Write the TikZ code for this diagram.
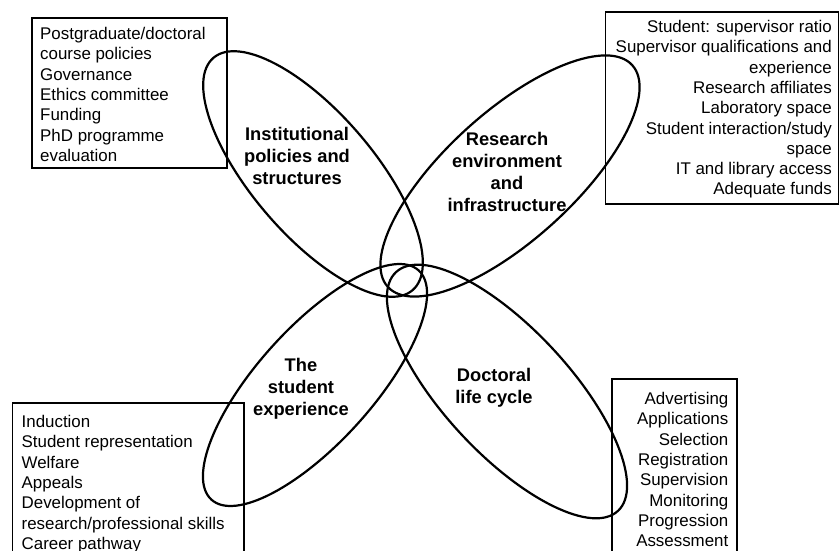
\documentclass[tikz,border=0pt]{standalone}
\usepackage{fontspec}
\setmainfont{Liberation Sans}
\begin{document}
\begin{tikzpicture}[x=1pt,y=-1pt,
  loop/.style={draw=black, line width=2.2pt},
  listbox/.style={draw=black, line width=1.4pt},
  listtext/.style={inner sep=0pt, font={\fontsize{16.9}{20.3}\selectfont}},
  hub/.style={inner sep=0pt, align=center, font={\fontsize{18.3}{22}\selectfont\bfseries}}]
\useasboundingbox (0,0) rectangle (840,551);
\clip (0,0) rectangle (840,551);
\fill[white] (0,0) rectangle (840,551);
% boxes
\draw[listbox] (32,18) rectangle (227,168);
\draw[listbox] (605.7,12) rectangle (838.6,204);
\draw[listbox] (12.7,403) rectangle (244,600);
\draw[listbox] (612,379) rectangle (737,600);
% ellipses
\draw[loop, rotate around={-49.4:(313,174)}] (313,174) ellipse [x radius=153pt, y radius=61pt];
\draw[loop, rotate around={42.2:(510,176)}] (510,176) ellipse [x radius=165pt, y radius=64pt];
\draw[loop, rotate around={47.9:(315,385)}] (315,385) ellipse [x radius=154.5pt, y radius=57.6pt];
\draw[loop, rotate around={-47.1:(507,391.5)}] (507,391.5) ellipse [x radius=163pt, y radius=62.6pt];
% lists
\node[listtext, align=left, anchor=north west] (tlist) at (40,25.1) {\strut Postgraduate/doctoral\\course policies\\Governance\\Ethics committee\\Funding\\PhD programme\\evaluation};
\node[listtext, align=right, anchor=north east] (trlist) at (832,18.1) {\strut Student: supervisor ratio\\Supervisor qualifications and\\experience\\Research affiliates\\Laboratory space\\Student interaction/study\\space\\IT and library access\\Adequate funds};
\node[listtext, align=left, anchor=north west] (bllist) at (21.5,413.1) {\strut Induction\\Student representation\\Welfare\\Appeals\\Development of\\research/professional skills\\Career pathway};
\node[listtext, align=right, anchor=north east] (brlist) at (728.5,390.1) {\strut Advertising\\Applications\\Selection\\Registration\\Supervision\\Monitoring\\Progression\\Assessment};
% labels
\node[hub, anchor=north] (inst) at (297,124.6) {\strut Institutional\\policies and\\structures};
\node[hub, anchor=north] (res) at (507,130.3) {\strut Research\\environment\\and\\infrastructure};
\node[hub, anchor=north] (stud) at (301,356.3) {\strut The\\student\\experience};
\node[hub, anchor=north] (doc) at (494,366.3) {\strut Doctoral\\life cycle};
\end{tikzpicture}
\end{document}
